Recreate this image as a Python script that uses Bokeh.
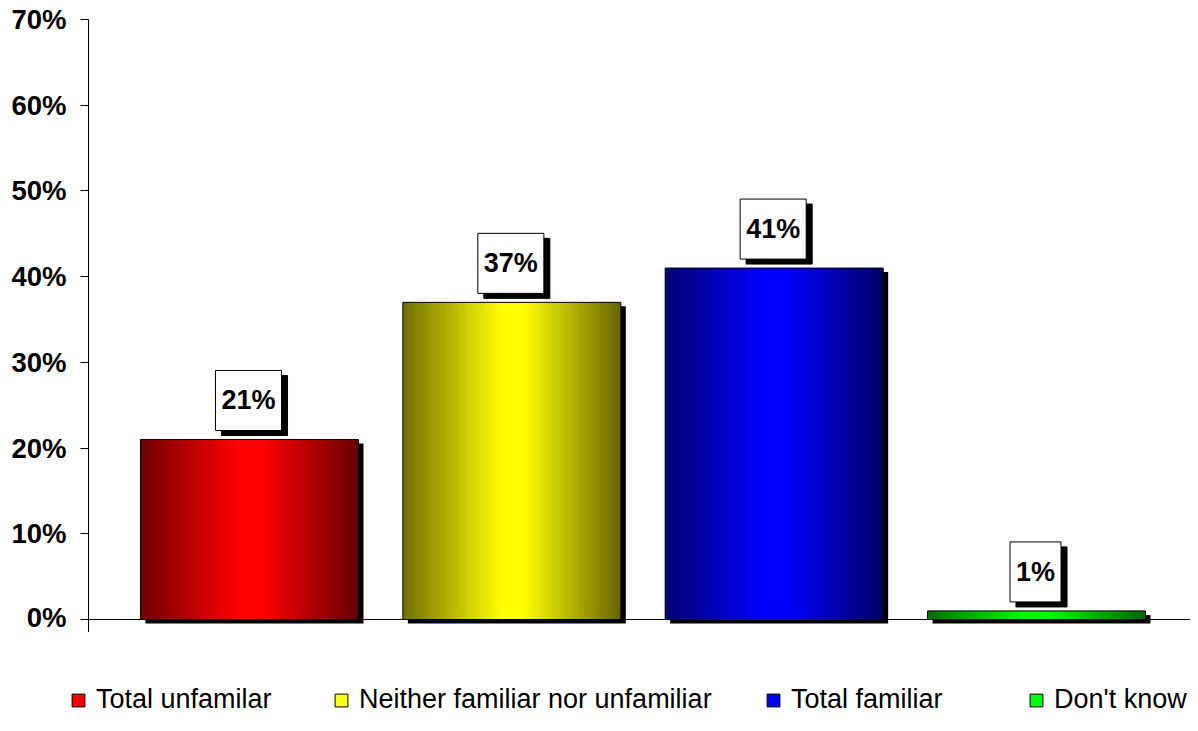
from bokeh.plotting import figure
from bokeh.layouts import column
from bokeh.models import Range1d, FixedTicker, Span, Legend, LegendItem, ColumnDataSource, Plot
from bokeh.core.properties import value
from bokeh.embed import file_html
from bokeh.resources import INLINE

# ---- data ----
categories = ["Total unfamilar", "Neither familiar nor unfamiliar", "Total familiar", "Don't know"]
values = [21, 37, 41, 1]
value_labels = ["21%", "37%", "41%", "1%"]
y_ticks = [0, 10, 20, 30, 40, 50, 60, 70]
y_tick_labels = ["0%", "10%", "20%", "30%", "40%", "50%", "60%", "70%"]
base_colors = [(255, 0, 0), (255, 255, 0), (0, 0, 255), (0, 255, 0)]
legend_x = [70, 333, 765, 1028]   # left edge of each legend entry (px)

FONT = "Liberation Sans"


def hexc(rgb, b):
    return "#%02x%02x%02x" % tuple(int(round(c * b)) for c in rgb)


def profile(t):
    # brightness across a bar: dark edges, bright centre
    if t < 0.45:
        return 0.44 + 0.56 * (t / 0.45)
    if t < 0.55:
        return 1.0
    return 1.0 - 0.60 * ((t - 0.55) / 0.45)


p = figure(width=1190, height=632, output_backend="svg", toolbar_location=None,
           x_range=Range1d(-0.6137, 3.587), y_range=Range1d(-1.517, 70),
           min_border_left=88, min_border_right=0, min_border_top=19, min_border_bottom=0)
p.outline_line_color = None
p.background_fill_color = "white"
p.border_fill_color = "white"
p.xgrid.visible = False
p.ygrid.visible = False
p.xaxis.visible = False

ya = p.yaxis[0]
ya.ticker = FixedTicker(ticks=y_ticks)
ya.major_label_overrides = {t: l for t, l in zip(y_ticks, y_tick_labels)}
ya.major_label_text_font = FONT
ya.major_label_text_font_style = "bold"
ya.major_label_text_font_size = "27.5px"
ya.major_label_text_color = "black"
ya.major_label_standoff = 14
ya.major_tick_out = 8
ya.major_tick_in = 0
ya.minor_tick_out = 0
ya.minor_tick_in = 0
ya.axis_line_color = "black"
ya.major_tick_line_color = "black"

p.add_layout(Span(location=0, dimension="width", line_color="black", line_width=1.2, level="underlay"))

W = 0.831
DX = 0.019
DY = 0.467
xs = list(range(len(values)))

# shadows
p.quad(left=[x - W / 2 + DX for x in xs], right=[x + W / 2 + DX for x in xs],
       top=[v - DY for v in values], bottom=[-DY] * len(values),
       fill_color="black", line_color=None)

# gradient slices
N = 60
L, R, T, B, C = [], [], [], [], []
for x, v, base in zip(xs, values, base_colors):
    sw = W / N
    for k in range(N):
        t = (k + 0.5) / N
        left = x - W / 2 + k * sw
        right = left + sw * (1.6 if k < N - 1 else 1.0)
        L.append(left)
        R.append(right)
        T.append(v)
        B.append(0)
        C.append(hexc(base, profile(t)))
p.quad(source=ColumnDataSource(dict(left=L, right=R, top=T, bottom=B, color=C)),
       left="left", right="right", top="top", bottom="bottom",
       fill_color="color", line_color=None)

# outlines
p.quad(left=[x - W / 2 for x in xs], right=[x + W / 2 for x in xs],
       top=values, bottom=[0] * len(values),
       fill_color=None, line_color="black", line_width=1)

# value labels (shadow + box)
lab_src = ColumnDataSource(dict(x=xs, y=values, text=value_labels))
pad = dict(left=6, right=6, top=15, bottom=15)
p.text(x="x", y="y", text="text", source=lab_src, x_offset=5, y_offset=-34,
       text_align="center", text_baseline="middle",
       text_font=value(FONT), text_font_style="bold", text_font_size="27px",
       text_color="black", background_fill_color="black",
       border_line_color="black", padding=pad)
p.text(x="x", y="y", text="text", source=lab_src, x_offset=-1, y_offset=-39,
       text_align="center", text_baseline="middle",
       text_font=value(FONT), text_font_style="bold", text_font_size="27px",
       text_color="black", background_fill_color="white",
       border_line_color="black", border_line_width=1, padding=pad)

# legend figure below the chart
lf = figure(width=1190, height=83, output_backend="svg", toolbar_location=None,
            x_range=Range1d(0, 1), y_range=Range1d(0, 1),
            x_axis_location=None, y_axis_location=None,
            min_border_left=0, min_border_right=0, min_border_top=0, min_border_bottom=0)
lf.outline_line_color = None
lf.grid.visible = False
x_shift = 0
if "frame_align" in Plot.properties():
    lf.frame_align = False
    p.frame_align = False
else:
    x_shift = -88

for cat, base, lx in zip(categories, base_colors, legend_x):
    r = lf.quad(left=[5], right=[6], top=[5], bottom=[6], fill_color=hexc(base, 1.0), line_color="black")
    lg = Legend(items=[LegendItem(label=cat, renderers=[r])], location=(lx + x_shift, 0),
                orientation="horizontal",
                glyph_width=16, glyph_height=16, label_standoff=10,
                padding=0, margin=0, border_line_color=None, background_fill_alpha=0,
                label_text_font=FONT, label_text_font_size="27px", label_text_color="black")
    lf.add_layout(lg)

layout = column(p, lf, spacing=0)
open("out.html", "w").write(file_html(layout, INLINE))
